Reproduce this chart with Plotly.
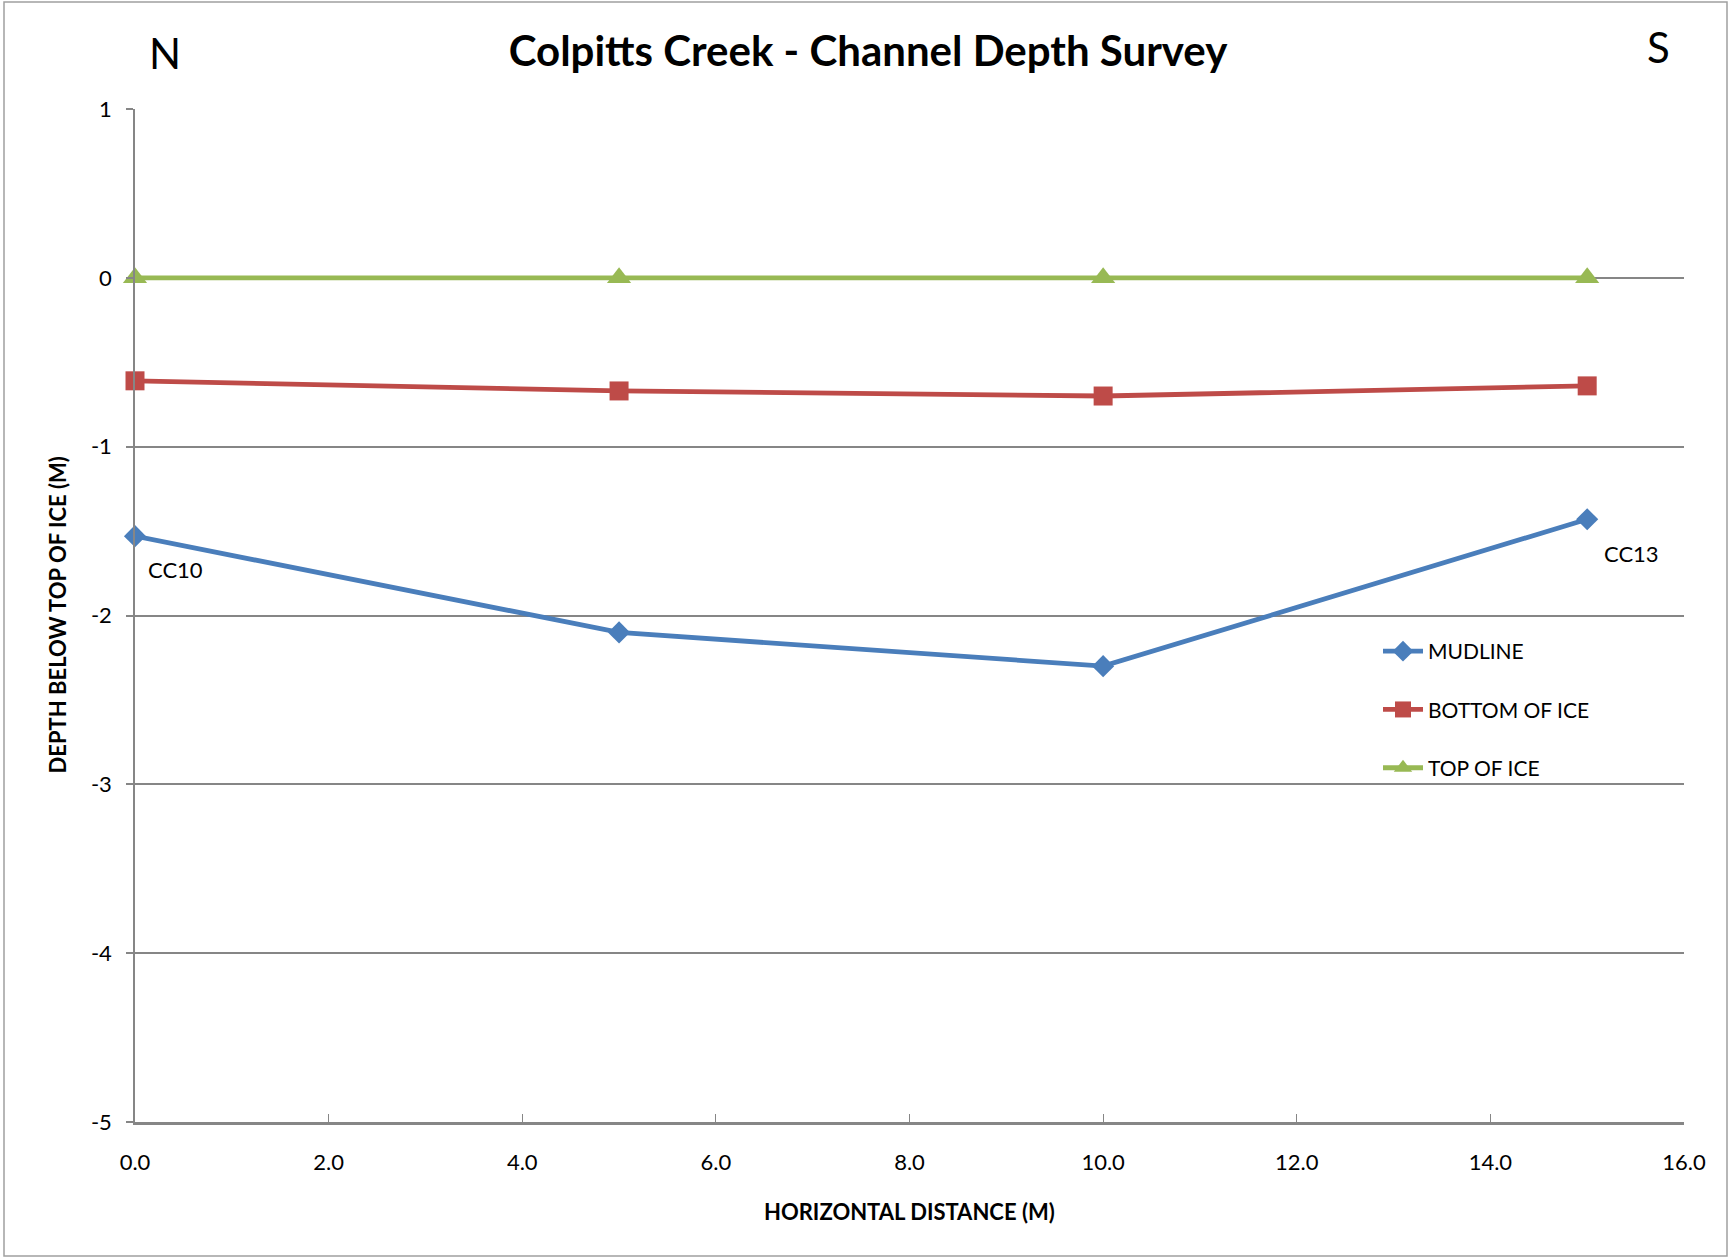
import plotly.graph_objects as go

# ---- data ----
distance = [0.0, 5.0, 10.0, 15.0]
mudline = [-1.53, -2.10, -2.30, -1.43]
bottom_of_ice = [-0.61, -0.67, -0.70, -0.64]
top_of_ice = [0.0, 0.0, 0.0, 0.0]
x_ticks = [0, 2, 4, 6, 8, 10, 12, 14, 16]
x_tick_labels = ["0.0", "2.0", "4.0", "6.0", "8.0", "10.0", "12.0", "14.0", "16.0"]
y_ticks = [1, 0, -1, -2, -3, -4, -5]
y_tick_labels = ["1", "0", "-1", "-2", "-3", "-4", "-5"]
station_labels = ["CC10", "CC13"]

W, H = 1729, 1258
ML, MR, MT, MB = 135, 45, 109, 136
PW, PH = W - ML - MR, H - MT - MB

def px_x(p):
    return (p - ML) / PW

def px_y(p):
    return (H - MB - p) / PH

FONT = "Lato"
GRID = "#868686"

fig = go.Figure()
fig.add_trace(go.Scatter(
    x=distance, y=mudline, name="MUDLINE", mode="lines+markers",
    line=dict(color="#4A7EBB", width=4.8),
    marker=dict(symbol="diamond", size=17, color="#4A7EBB"),
    legendgroup="a", cliponaxis=False))
fig.add_trace(go.Scatter(
    x=distance, y=bottom_of_ice, name="BOTTOM OF ICE", mode="lines+markers",
    line=dict(color="#BE4B48", width=4.8),
    marker=dict(symbol="square", size=19, color="#BE4B48"),
    legendgroup="b", cliponaxis=False))
fig.add_trace(go.Scatter(
    x=distance, y=top_of_ice, name="TOP OF ICE", mode="lines+markers",
    line=dict(color="#98B954", width=4.8),
    marker=dict(symbol="triangle-up", size=21, color="#98B954"),
    legendgroup="c", cliponaxis=False))

annotations = [
    dict(x=distance[0], y=mudline[0], xref="x", yref="y", text=station_labels[0],
         showarrow=False, xshift=40, yshift=-33, xanchor="center", yanchor="middle",
         font=dict(family=FONT, size=22, color="black")),
    dict(x=distance[-1], y=mudline[-1], xref="x", yref="y", text=station_labels[1],
         showarrow=False, xshift=44, yshift=-34, xanchor="center", yanchor="middle",
         font=dict(family=FONT, size=22, color="black")),
    dict(x=px_x(165), y=px_y(53), xref="paper", yref="paper", text="N", showarrow=False,
         xanchor="center", yanchor="middle", font=dict(family=FONT, size=42, color="black")),
    dict(x=px_x(1658), y=px_y(47), xref="paper", yref="paper", text="S", showarrow=False,
         xanchor="center", yanchor="middle", font=dict(family=FONT, size=42, color="black")),
    dict(x=px_x(57), y=0.5, xref="paper", yref="paper", text="<b>DEPTH BELOW TOP OF ICE (M)</b>",
         textangle=-90, showarrow=False, xanchor="center", yanchor="middle",
         font=dict(family=FONT, size=22, color="black")),
    dict(x=0.5, y=px_y(1211), xref="paper", yref="paper", text="<b>HORIZONTAL DISTANCE (M)</b>",
         showarrow=False, xanchor="center", yanchor="middle",
         font=dict(family=FONT, size=22, color="black")),
]

fig.update_layout(
    width=W, height=H, autosize=False,
    margin=dict(l=ML, r=MR, t=MT, b=MB),
    paper_bgcolor="white", plot_bgcolor="white",
    title=dict(text="<b>Colpitts Creek - Channel Depth Survey</b>",
               x=868 / W, xanchor="center", y=1 - 51 / H, yanchor="middle",
               font=dict(family=FONT, size=42, color="black")),
    font=dict(family=FONT, size=21, color="black"),
    showlegend=True,
    legend=dict(x=px_x(1378), y=px_y(631), xanchor="left", yanchor="top",
                font=dict(family=FONT, size=21, color="black"),
                tracegroupgap=28, bgcolor="rgba(0,0,0,0)", itemwidth=40),
    annotations=annotations,
    shapes=[dict(type="rect", xref="paper", yref="paper",
                 x0=px_x(4), x1=px_x(1727), y0=px_y(1256), y1=px_y(2),
                 line=dict(color="#A0A0A0", width=1.5), layer="below")],
)

fig.update_xaxes(
    range=[0, 16], tickvals=x_ticks, ticktext=x_tick_labels,
    showgrid=False, zeroline=False,
    showline=True, linecolor=GRID, linewidth=2.5,
    ticks="inside", ticklen=8, tickcolor=GRID, tickwidth=1,
    ticklabelstandoff=19,
    tickfont=dict(family=FONT, size=22, color="black"),
)
fig.update_yaxes(
    range=[-5, 1], tickvals=y_ticks, ticktext=y_tick_labels,
    showgrid=True, gridcolor=GRID, gridwidth=1.5,
    zeroline=False,
    showline=True, linecolor=GRID, linewidth=1.5,
    ticks="outside", ticklen=7, tickcolor=GRID, tickwidth=1.5,
    ticklabelstandoff=10,
    tickfont=dict(family=FONT, size=22, color="black"),
)

fig.write_html("out.html", config={"displayModeBar": False},
               post_script="document.body.style.margin='0';")
